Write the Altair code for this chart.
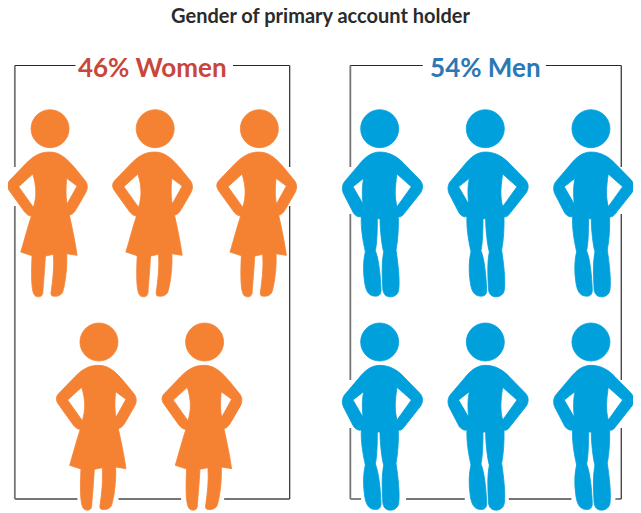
import re
import altair as alt
import pandas as pd

# icon head-centre positions
women_x = [44, 151.5, 258, 94, 202]
women_y = [128.7, 128.7, 128.7, 342, 342]
men_x = [381, 489, 597, 381, 489, 597]
men_y = [128.7, 128.7, 128.7, 342, 342, 342]

title_text = ["Gender of primary account holder"]
title_x = [320.5]
title_y = [17]

labels = ["46% Women", "54% Men"]
label_x = [148.5, 489]
label_y = [69, 69]
label_colors = ["#c8473a", "#2b78b4"]

# frame segments, dark (top and right edges)
dark_x = [8, 231, 289, 289, 351, 551, 628, 628, 628]
dark_y = [65.5, 65.5, 65.5, 206, 65.5, 65.5, 65.5, 214, 428]
dark_x2 = [70, 289, 289, 289, 425, 628, 628, 628, 628]
dark_y2 = [65.5, 65.5, 167, 499, 65.5, 65.5, 167, 380, 499]
# frame segments, grey (left and bottom edges)
grey_x = [8, 8, 8, 114, 222, 351, 351, 351, 351, 408, 513, 622]
grey_y = [65.5, 206, 499, 499, 499, 65.5, 214, 428, 499, 499, 499, 499]
grey_x2 = [8, 8, 72, 178, 289, 351, 351, 351, 362, 468, 577, 628]
grey_y2 = [167, 499, 499, 499, 499, 167, 380, 499, 499, 499, 499, 499]

HEAD = ("M-57 0C-57 -31.4 -31.4 -57 0 -57C31.4 -57 57 -31.4 57 0"
        "C57 31.4 31.4 57 0 57C-31.4 57 -57 31.4 -57 0Z")

WOMAN = (
    "M130 306C165 306 185 330 205 352L236 390C246 402 246 416 238 430L212 475"
    "C205 488 198 494 190 496C200 540 208 580 213 616L182 611C184 650 178 700 170 725"
    "C165 738 150 740 140 738C134 737 134 730 136 720C140 690 145 650 142 613L118 618"
    "C116 660 112 700 110 730C108 742 95 742 88 738C78 730 74 700 78 617L44 606"
    "C55 570 65 530 76 498C66 498 58 490 50 478L12 425C2 412 2 402 10 392L60 340"
    "C80 320 100 306 130 306Z"
    "M80 372L38 410L82 472C92 440 92 410 80 372Z"
    "M182 385C180 410 178 430 183 462L213 408Z"
)
MAN = (
    "M123 306C155 306 178 322 195 340L242 388C254 400 254 415 246 428L197 490"
    "C190 500 184 502 179 500C180 530 178 570 172 600C178 640 184 690 180 720"
    "C177 738 160 742 150 740C138 738 132 728 132 710C131 680 128 640 135 605"
    "C130 590 124 540 124 506L116 506C116 540 115 580 110 602C120 625 126 680 127 720"
    "C127 735 120 740 105 738C88 736 80 720 77 690C73 660 74 630 80 605"
    "C72 570 66 530 68 500C60 502 50 498 44 488L14 430C8 415 12 400 20 392L60 345"
    "C78 322 98 306 123 306Z"
    "M75 385L43 410L73 462C70 430 70 410 75 385Z"
    "M175 372C168 420 168 440 175 470L218 410Z"
)


def shift(path, cx, cy):
    """Move an icon outline so that the head centre is its anchor."""
    nums = iter(range(10 ** 6))

    def repl(m):
        v = float(m.group(0))
        return f"{v - cx if next(nums) % 2 == 0 else v - cy:g}"

    return re.sub(r"-?\d+(?:\.\d+)?", repl, path)


woman_shape = HEAD + shift(WOMAN, 132, 236)
man_shape = HEAD + shift(MAN, 123, 236)

W, H = 625, 505
# the drawing spans x = 1..640; it is fitted into the page's 625 px column
xs = alt.Scale(domain=[1, 640], range=[0, W])
ys = alt.Scale(domain=[8, 8 + H], range=[0, H])
X = alt.X("x:Q", scale=xs, axis=None)
Y = alt.Y("y:Q", scale=ys, axis=None)

women = pd.DataFrame({"x": women_x, "y": women_y})
men = pd.DataFrame({"x": men_x, "y": men_y})
dark = pd.DataFrame({"x": dark_x, "y": dark_y, "x2": dark_x2, "y2": dark_y2})
grey = pd.DataFrame({"x": grey_x, "y": grey_y, "x2": grey_x2, "y2": grey_y2})
text = pd.DataFrame({"x": label_x, "y": label_y, "t": labels, "c": label_colors})
title_df = pd.DataFrame({"x": title_x, "y": title_y, "t": title_text})

ICON_SIZE = (2 / 3) ** 2

frame_dark = alt.Chart(dark).mark_rule(color="#2a2a2a", strokeWidth=1.2).encode(
    x=X, y=Y, x2="x2:Q", y2="y2:Q")
frame_grey = alt.Chart(grey).mark_rule(color="#757575", strokeWidth=1.8).encode(
    x=X, y=Y, x2="x2:Q", y2="y2:Q")


def icons(df, shape, color):
    return alt.Chart(df).mark_point(
        shape=shape, size=ICON_SIZE, filled=True, fill=color, stroke=color,
        opacity=1, strokeWidth=0.8, strokeJoin="round"
    ).encode(x=X, y=Y)


labels_layer = alt.Chart(text).mark_text(
    font="Lato", fontSize=26, fontWeight="bold", align="center", baseline="middle"
).encode(x=X, y=Y, text="t:N", color=alt.Color("c:N", scale=None))

title_layer = alt.Chart(title_df).mark_text(
    font="Lato", fontSize=20, fontWeight="bold", color="#2b2b2b", align="center", baseline="middle"
).encode(x=X, y=Y, text="t:N")

chart = alt.layer(
    frame_grey, frame_dark,
    icons(women, woman_shape, "#f58233"),
    icons(men, man_shape, "#00a0dc"),
    labels_layer,
    title_layer,
).properties(
    width=W, height=H, padding=0, autosize=alt.AutoSizeParams(type="none"),
).configure_view(stroke=None)

chart.save("out.html", embed_options={"renderer": "svg", "actions": False})
